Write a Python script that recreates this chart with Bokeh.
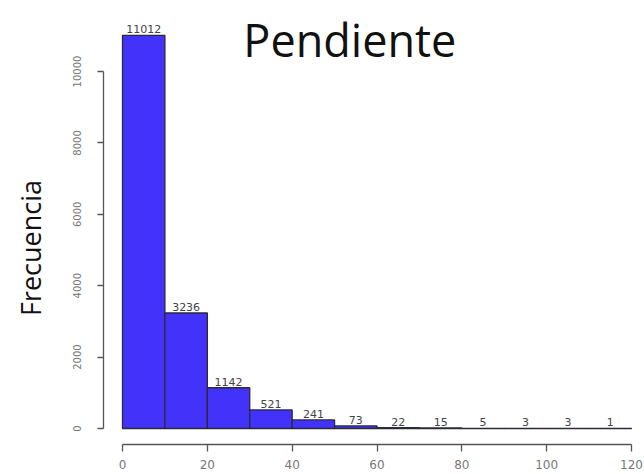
import math
from bokeh.plotting import figure
from bokeh.models import Range1d, FixedTicker, Label, ColumnDataSource
from bokeh.core.properties import value
from bokeh.embed import file_html
from bokeh.resources import INLINE

# Histogram of slope values (bins of width 10)
bin_edges = [0, 10, 20, 30, 40, 50, 60, 70, 80, 90, 100, 110, 120]
counts = [11012, 3236, 1142, 521, 241, 73, 22, 15, 5, 3, 3, 1]
x_ticks = [0, 20, 40, 60, 80, 100, 120]
y_ticks = [0, 2000, 4000, 6000, 8000, 10000]
title_text = "Pendiente"
y_label = "Frecuencia"

left = bin_edges[:-1]
right = bin_edges[1:]
mid = [(a + b) / 2 for a, b in zip(left, right)]
src = ColumnDataSource(dict(left=left, right=right, top=counts,
                            bottom=[0] * len(counts), mid=mid,
                            lab=[str(c) for c in counts]))

p = figure(width=644, height=474, output_backend="svg", toolbar_location=None,
           x_range=Range1d(-28.76, 123.06), y_range=Range1d(-448, 11989),
           min_border_left=0, min_border_bottom=30, min_border_top=0,
           min_border_right=0, title=None)
p.outline_line_color = None
p.xgrid.grid_line_color = None
p.ygrid.grid_line_color = None
p.background_fill_color = "white"
p.border_fill_color = "white"

p.quad(left="left", right="right", top="top", bottom="bottom", source=src,
       fill_color="#4232fa", line_color="#2a2a3a", line_width=1.3)

p.text(x="mid", y="top", text="lab", source=src, text_align="center",
       text_baseline="bottom", y_offset=-2, text_font=value("DejaVu Sans"),
       text_font_size="11px", text_color="#444444")

# x axis
xa = p.xaxis[0]
xa.ticker = FixedTicker(ticks=x_ticks)
xa.bounds = (0, 120)
xa.axis_line_color = "#555555"
xa.axis_line_width = 1.3
xa.major_tick_line_color = "#555555"
xa.major_tick_line_width = 1.3
xa.major_tick_in = 0
xa.major_tick_out = 7
xa.minor_tick_line_color = None
xa.major_label_standoff = 8
xa.major_label_text_font = "DejaVu Sans"
xa.major_label_text_font_size = "12px"
xa.major_label_text_color = "#777777"

# y axis, drawn a little to the left of the first bin
ya = p.yaxis[0]
ya.fixed_location = -4.48
ya.ticker = FixedTicker(ticks=y_ticks)
ya.bounds = (0, 10000)
ya.axis_line_color = "#555555"
ya.axis_line_width = 1.3
ya.major_tick_line_color = "#555555"
ya.major_tick_line_width = 1.3
ya.major_tick_in = 0
ya.major_tick_out = 6
ya.minor_tick_line_color = None
ya.major_label_orientation = "vertical"
ya.major_label_standoff = 16
ya.major_label_text_font = "DejaVu Sans"
ya.major_label_text_font_size = "10px"
ya.major_label_text_color = "#777777"

# y-axis title, centred on the ruled part of the axis
p.add_layout(Label(x=-21.7, y=5056, text=y_label, angle=math.pi / 2,
                   text_align="center", text_baseline="middle",
                   text_font="Open Sans", text_font_size="27px",
                   text_color="#111111"))

p.add_layout(Label(x=53.6, y=10896, text=title_text, text_align="center",
                   text_baseline="alphabetic", text_font="Open Sans",
                   text_font_size="45px", text_color="#111111"))

open("out.html", "w").write(file_html(p, INLINE))
